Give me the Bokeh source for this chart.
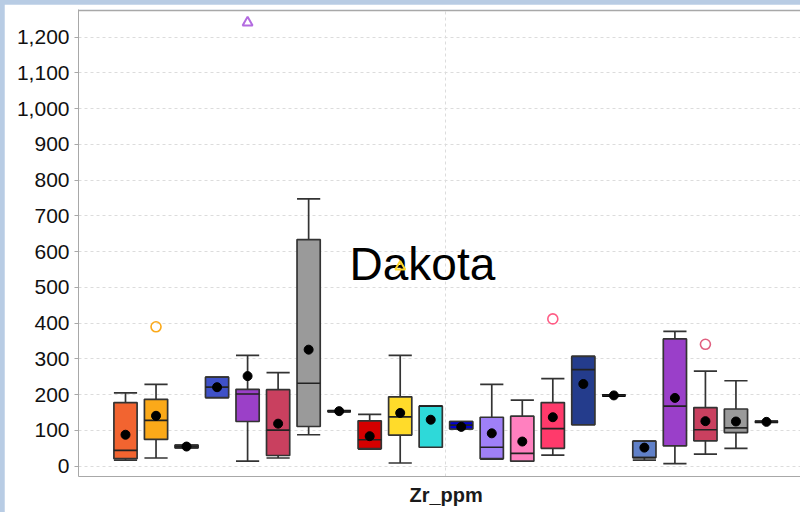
from bokeh.plotting import figure
from bokeh.layouts import column
from bokeh.models import (ColumnDataSource, FixedTicker, NumeralTickFormatter,
                          Label, Span, Title)
from bokeh.embed import file_html
from bokeh.resources import INLINE

# Zr (ppm) box-plot statistics per sample group, left to right
q1 = [21, 75, 51, 192, 125, 30, 111, 154, 49, 87, 53, 104, 21, 14, 50, 116, 198, 24, 57, 71, 94, 124]
median = [44, 128, 55, 221, 202, 101, 232, 154, 74, 138, 168, 115, 53, 36, 105, 270, 198, 24, 168, 102, 107, 124]
q3 = [178, 187, 59, 249, 215, 214, 634, 154, 127, 194, 168, 125, 137, 140, 178, 307, 198, 70, 356, 164, 160, 124]
lower = [17, 23, 51, 192, 14, 23, 88, 154, 48, 9, 53, 104, 20, 14, 31, 116, 198, 17, 7, 34, 50, 124]
upper = [205, 229, 59, 249, 310, 262, 748, 154, 145, 310, 168, 125, 229, 185, 245, 307, 198, 70, 377, 266, 239, 124]
mean = [88, 141, 55, 221, 252, 119, 326, 154, 84, 149, 130, 110, 92, 69, 137, 230, 198, 52, 191, 126, 125, 124]
colors = ["#F26430", "#FBA919", "#7B96D8", "#3F51C8", "#9B40C8", "#C9405F", "#9A9A9A", "#000000",
          "#D60000", "#FFDB2A", "#2ED9D9", "#0000D0", "#9F80F7", "#FF80BF", "#FF3A6B", "#243C8C",
          "#000000", "#6080C8", "#9A3FC9", "#C9405F", "#9A9A9A", "#000000"]

# outliers: group index, value, colour
circle_group = [1, 14, 19]
circle_value = [390, 412, 341]
circle_color = ["#FBA919", "#FF5C85", "#E06080"]
tri_group = [4, 9]
tri_value = [1241, 558]
tri_color = ["#B36BE0", "#FFD92A"]

yticks = list(range(0, 1300, 100))
x_title = "Zr_ppm"
unit_name = "Dakota"

n = len(q1)
xs = list(range(n))
hw = 0.38
single = [a == b for a, b in zip(q1, q3)]

src = ColumnDataSource(dict(
    x=xs, left=[x - hw for x in xs], right=[x + hw for x in xs],
    q1=q1, q3=q3, med=median, lo=lower, hi=upper, mean=mean, color=colors,
    lw=[3.0 if s else 1.7 for s in single],
    lc=["#000000" if s else "#333333" for s in single],
))

p = figure(width=796, height=508, output_backend="svg", toolbar_location=None,
           x_range=(-1.54, 22.115), y_range=(-28.8, 1277.5),
           min_border_left=74, min_border_top=5, min_border_right=0, min_border_bottom=36)
p.margin = (4, 0, 0, 4)
p.outline_line_color = None
p.background_fill_color = "white"
p.border_fill_color = "white"

# grid
p.ygrid.ticker = FixedTicker(ticks=yticks)
p.ygrid.grid_line_color = "#DCDCDC"
p.ygrid.grid_line_dash = "3 3"
p.xgrid.ticker = FixedTicker(ticks=[(n - 1) / 2])
p.xgrid.grid_line_color = "#DCDCDC"
p.xgrid.grid_line_dash = "3 3"

# axes
p.yaxis.ticker = FixedTicker(ticks=yticks)
p.yaxis.formatter = NumeralTickFormatter(format="0,0")
p.yaxis.axis_line_color = "#A8A8A8"
p.yaxis.major_tick_line_color = "#A8A8A8"
p.yaxis.major_tick_out = 4
p.yaxis.major_tick_in = 0
p.yaxis.minor_tick_line_color = None
p.yaxis.major_label_standoff = 5
p.yaxis.major_label_text_font = "Liberation Sans"
p.yaxis.major_label_text_font_size = "21px"
p.yaxis.major_label_text_color = "#111111"

p.xaxis.ticker = FixedTicker(ticks=[])
p.xaxis.axis_line_color = "#A8A8A8"
p.xaxis.major_tick_line_color = None
p.xaxis.minor_tick_line_color = None
p.xaxis.major_tick_out = 0
p.xaxis.major_label_standoff = 0

# x-axis title, placed under the centre of the full category span
p.add_layout(Title(text=x_title, align="left", offset=331, text_font="Liberation Sans",
                   text_font_size="20px", text_font_style="bold", text_color="#1A1A1A",
                   standoff=10), "below")

# top frame line
p.add_layout(Span(location=1274.7, dimension="width", line_color="#A8A8A8", line_width=1.5))

# whiskers and caps
p.segment(x0="x", y0="q3", x1="x", y1="hi", source=src, line_color="#333333", line_width=1.7)
p.segment(x0="x", y0="q1", x1="x", y1="lo", source=src, line_color="#333333", line_width=1.7)
p.segment(x0="left", y0="hi", x1="right", y1="hi", source=src, line_color="#333333", line_width=1.7)
p.segment(x0="left", y0="lo", x1="right", y1="lo", source=src, line_color="#333333", line_width=1.7)

# boxes
p.quad(left="left", right="right", bottom="q1", top="q3", source=src,
       fill_color="color", line_color="lc", line_width="lw")
p.segment(x0="left", y0="med", x1="right", y1="med", source=src, line_color="#222222", line_width=1.7)

# means
p.scatter(x="x", y="mean", source=src, size=9, marker="circle", color="black")

# group title
p.add_layout(Label(x=7.34, y=567, text=unit_name, text_font="Liberation Sans",
                   text_font_size="46px", text_color="black", text_baseline="alphabetic"))

# outliers (drawn above the group title)
p.scatter(x=circle_group, y=circle_value, marker="circle", size=10, fill_color=None,
          line_color=circle_color, line_width=1.6)
p.scatter(x=tri_group, y=tri_value, marker="triangle", size=10, fill_color=None,
          line_color=tri_color, line_width=2, level="overlay")

layout = column(p, width=800, height=512, styles={"background-color": "#B8CCE4"})

open("out.html", "w").write(file_html(layout, INLINE))
